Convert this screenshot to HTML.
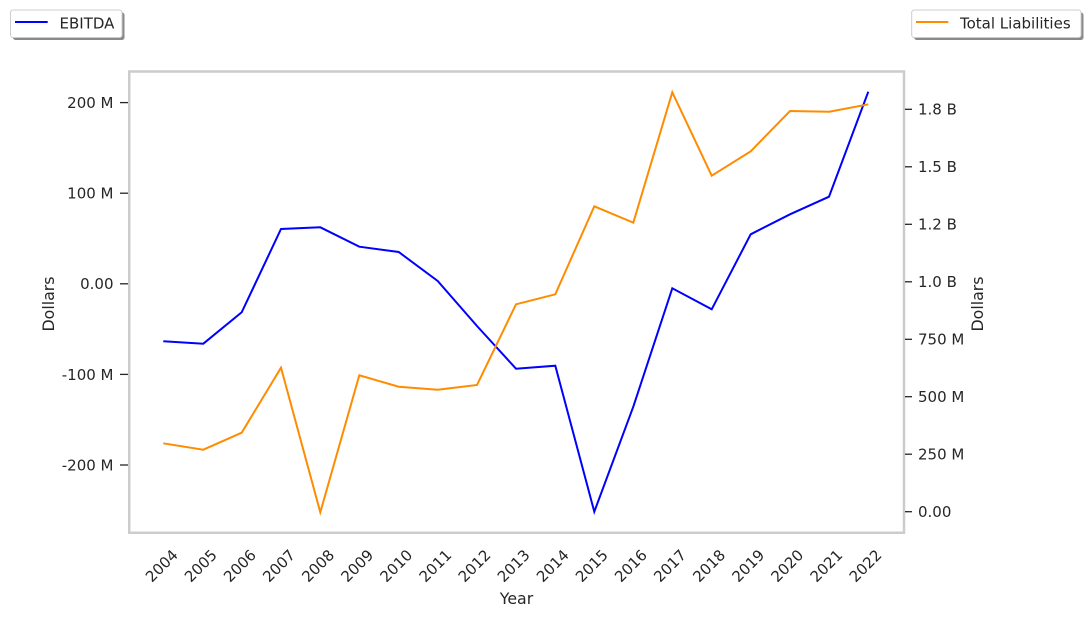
<!DOCTYPE html>
<html>
<head>
<meta charset="utf-8">
<style>
html,body{margin:0;padding:0;background:#fff;}
svg{display:block;}
text{font-family:"DejaVu Sans","Liberation Sans",sans-serif;fill:#262626;font-size:15px;}
</style>
</head>
<body>
<svg width="1089" height="618" viewBox="0 0 1089 618" xmlns="http://www.w3.org/2000/svg">
<rect x="0" y="0" width="1089" height="618" fill="#fff"/>

<!-- plot frame -->
<rect x="129.25" y="71.5" width="774.75" height="461.25" fill="none" stroke="#cccccc" stroke-width="2.5"/>

<!-- left ticks -->
<g stroke="#262626" stroke-width="1.3">
<line x1="120" y1="102.6" x2="128" y2="102.6"/>
<line x1="120" y1="193.2" x2="128" y2="193.2"/>
<line x1="120" y1="283.8" x2="128" y2="283.8"/>
<line x1="120" y1="374.4" x2="128" y2="374.4"/>
<line x1="120" y1="465.0" x2="128" y2="465.0"/>
</g>
<g text-anchor="end">
<text x="113.5" y="108.0">200 M</text>
<text x="113.5" y="198.6">100 M</text>
<text x="113.5" y="289.2">0.00</text>
<text x="113.5" y="379.8">-100 M</text>
<text x="113.5" y="470.4">-200 M</text>
</g>

<!-- right ticks -->
<g stroke="#262626" stroke-width="1.3">
<line x1="905" y1="109.3" x2="912" y2="109.3"/>
<line x1="905" y1="166.8" x2="912" y2="166.8"/>
<line x1="905" y1="224.3" x2="912" y2="224.3"/>
<line x1="905" y1="281.8" x2="912" y2="281.8"/>
<line x1="905" y1="339.3" x2="912" y2="339.3"/>
<line x1="905" y1="396.7" x2="912" y2="396.7"/>
<line x1="905" y1="454.2" x2="912" y2="454.2"/>
<line x1="905" y1="511.7" x2="912" y2="511.7"/>
</g>
<g text-anchor="start">
<text x="918" y="114.7">1.8 B</text>
<text x="918" y="172.2">1.5 B</text>
<text x="918" y="229.7">1.2 B</text>
<text x="918" y="287.2">1.0 B</text>
<text x="918" y="344.7">750 M</text>
<text x="918" y="402.1">500 M</text>
<text x="918" y="459.6">250 M</text>
<text x="918" y="517.1">0.00</text>
</g>

<!-- axis labels -->
<text x="0" y="0" text-anchor="middle" style="font-size:15.8px" transform="translate(54,304) rotate(-90)">Dollars</text>
<text x="0" y="0" text-anchor="middle" style="font-size:15.8px" transform="translate(983,304) rotate(-90)">Dollars</text>
<text x="516.5" y="604" text-anchor="middle" style="font-size:15.8px">Year</text>

<!-- x tick labels -->
<g text-anchor="middle" dominant-baseline="central">
<text transform="translate(161.8,566) rotate(-45)">2004</text>
<text transform="translate(200.9,566) rotate(-45)">2005</text>
<text transform="translate(240.0,566) rotate(-45)">2006</text>
<text transform="translate(279.1,566) rotate(-45)">2007</text>
<text transform="translate(318.2,566) rotate(-45)">2008</text>
<text transform="translate(357.3,566) rotate(-45)">2009</text>
<text transform="translate(396.4,566) rotate(-45)">2010</text>
<text transform="translate(435.5,566) rotate(-45)">2011</text>
<text transform="translate(474.6,566) rotate(-45)">2012</text>
<text transform="translate(513.7,566) rotate(-45)">2013</text>
<text transform="translate(552.8,566) rotate(-45)">2014</text>
<text transform="translate(591.9,566) rotate(-45)">2015</text>
<text transform="translate(631.0,566) rotate(-45)">2016</text>
<text transform="translate(670.1,566) rotate(-45)">2017</text>
<text transform="translate(709.2,566) rotate(-45)">2018</text>
<text transform="translate(748.3,566) rotate(-45)">2019</text>
<text transform="translate(787.4,566) rotate(-45)">2020</text>
<text transform="translate(826.5,566) rotate(-45)">2021</text>
<text transform="translate(865.6,566) rotate(-45)">2022</text>
</g>

<!-- series -->
<polyline fill="none" stroke="#0000ff" stroke-width="2" stroke-linejoin="miter" points="163.3,341.3 203.3,343.7 241.7,312.3 281,229 320.3,227.3 359.3,246.7 398.7,252 437.7,281 477,326 516,368.7 555.3,365.7 594.3,511.7 633.3,406.7 672.3,288.3 711.7,309.3 750.7,234.3 790,214.3 829,196.7 868.3,91.7"/>
<polyline fill="none" stroke="#ff8c00" stroke-width="2" stroke-linejoin="miter" points="163.3,443.3 203.3,449.7 241.7,432.7 281,367.7 320.3,512.3 359.3,375.3 398.7,386.7 437.7,389.7 477,385 516,304.3 555.3,294.3 594.3,206.3 633.3,222.7 672.3,92.3 711.7,175.7 750.7,151.3 790,111 829.3,111.7 868.3,104.3"/>

<!-- legend 1 -->
<rect x="13" y="12.5" width="111.5" height="27.5" rx="2.5" fill="#8a8a8a"/>
<rect x="10.5" y="10" width="111.5" height="27.5" rx="2.5" fill="#fff" stroke="#cccccc" stroke-width="1"/>
<line x1="15" y1="22" x2="47.7" y2="22" stroke="#0000ff" stroke-width="2"/>
<text x="59.5" y="28.4">EBITDA</text>

<!-- legend 2 -->
<rect x="914.2" y="12.5" width="169.3" height="27.5" rx="2.5" fill="#8a8a8a"/>
<rect x="911.7" y="10" width="169.3" height="27.5" rx="2.5" fill="#fff" stroke="#cccccc" stroke-width="1"/>
<line x1="916" y1="22" x2="948.3" y2="22" stroke="#ff8c00" stroke-width="2"/>
<text x="960" y="28.4">Total Liabilities</text>
</svg>
</body>
</html>
